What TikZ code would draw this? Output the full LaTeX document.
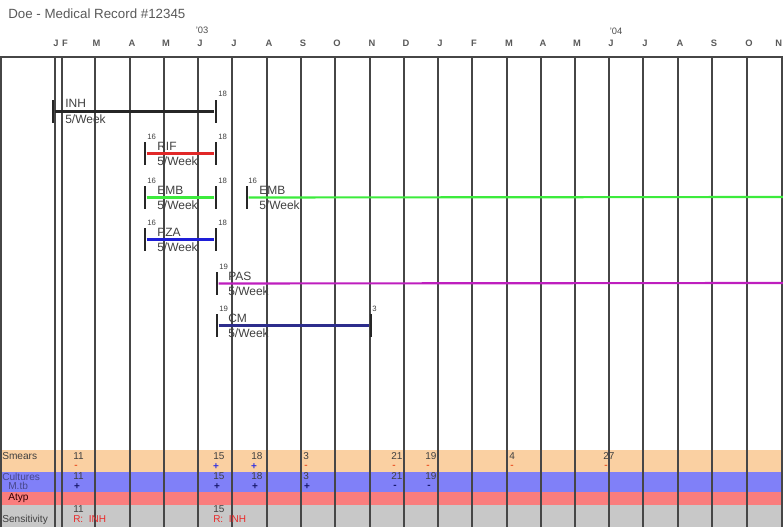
\documentclass[tikz,border=0pt]{standalone}
\usepackage{fontspec}
\setmainfont{Liberation Sans}
\definecolor{smearc}{RGB}{250,208,162}
\definecolor{cultc}{RGB}{128,128,248}
\definecolor{atypc}{RGB}{250,125,125}
\definecolor{sensc}{RGB}{200,200,200}
\definecolor{gridc}{RGB}{70,70,70}
\definecolor{rifc}{RGB}{225,40,40}
\definecolor{embc}{RGB}{60,235,60}
\definecolor{pzac}{RGB}{30,30,215}
\definecolor{pasc}{RGB}{190,30,190}
\definecolor{cmc}{RGB}{45,45,140}
\definecolor{minusc}{RGB}{235,95,50}
\definecolor{plusc}{RGB}{50,50,225}
\definecolor{navyc}{RGB}{25,25,110}
\definecolor{resc}{RGB}{235,40,40}
\begin{document}
\begin{tikzpicture}[x=0.75pt,y=-0.75pt,
  gridline/.style={draw=gridc, line width=1.3pt},
  tickmark/.style={fill=black!85, draw=none, inner sep=0pt, minimum width=2pt, minimum height=17.2pt},
  barline/.style={line width=1.6pt},
  txt/.style={anchor=base west, inner sep=0pt, text=black!75},
  month/.style={anchor=base, inner sep=0pt, font=\fontsize{7}{8}\selectfont\bfseries, text=black!65},
  yearlbl/.style={anchor=base, inner sep=0pt, font=\fontsize{7}{8}\selectfont, text=black!70},
  drug/.style={txt, font=\fontsize{9}{10}\selectfont},
  datenum/.style={txt, font=\fontsize{5.8}{6}\selectfont},
  rowlbl/.style={txt, font=\fontsize{7.6}{8}\selectfont},
  val/.style={txt, font=\fontsize{7.5}{8}\selectfont},
  sign/.style={anchor=center, inner sep=0pt, font=\fontsize{7.5}{8}\selectfont\bfseries}
]
\useasboundingbox (0,0) rectangle (783,527);

% result bands
\fill[smearc] (0,450) rectangle (783,472);
\fill[cultc] (0,472) rectangle (783,492);
\fill[atypc] (0,492) rectangle (783,505);
\fill[sensc] (0,505) rectangle (783,527);

% month grid lines
\foreach \x [count=\i] in {55,62,95,130,164,198,232,267,301,335,370,404,438,472,507,541,575,609,643,678,712,747,782}
  \draw[gridline] (\x,57) -- (\x,527);
\draw[gridline] (0,57) -- (783,57);
\draw[gridline] (0.8,57) -- (0.8,527);

% title
\node[txt, font=\fontsize{10}{12}\selectfont, text=black!65] (title) at (8,19) {Doe - Medical Record \#12345};

% month labels
\foreach \x/\m [count=\i] in {56/J,65/F,96.5/M,132/A,166/M,200/J,234/J,269/A,303/S,337/O,372/N,406/D,440/J,474/F,509/M,543/A,577/M,611/J,645/J,680/A,714/S,749/O}
  \node[month] (mon\i) at (\x,47) {\m};
\node[month, anchor=base east] (mon23) at (782.5,47) {N};
\node[yearlbl] (y03) at (202,34) {'03};
\node[yearlbl] (y04) at (616,35) {'04};

% INH
\node[tickmark] (inhL) at (53,111.5) {};
\node[tickmark] (inhR) at (216,111.5) {};
\draw[barline, black!85] (inhL) -- (inhR);
\node[drug] (inhT) at (65,108) {INH};
\node[drug] (inhF) at (65,124) {5/Week};
\node[datenum] (inhE) at (218,97) {18};

% RIF
\node[tickmark] (rifL) at (145,153.5) {};
\node[tickmark] (rifR) at (216,153.5) {};
\draw[barline, rifc] (rifL) -- (rifR);
\node[datenum] (rifS) at (147,140) {16};
\node[datenum] (rifE) at (218,140) {18};
\node[drug] (rifT) at (157,151) {RIF};
\node[drug] (rifF) at (157,166) {5/Week};

% EMB
\node[tickmark] (embL) at (145,197.5) {};
\node[tickmark] (embR) at (216,197.5) {};
\draw[barline, embc] (embL) -- (embR);
\node[datenum] (embS) at (147,184) {16};
\node[datenum] (embE) at (218,184) {18};
\node[drug] (embT) at (157,195) {EMB};
\node[drug] (embF) at (157,210) {5/Week};

% EMB (restart)
\node[tickmark] (emb2L) at (247,197.5) {};
\coordinate (emb2R) at (783,197);
\draw[barline, embc] (emb2L) -- (emb2R);
\node[datenum] (emb2S) at (248,184) {16};
\node[drug] (emb2T) at (259,195) {EMB};
\node[drug] (emb2F) at (259,210) {5/Week};

% PZA
\node[tickmark] (pzaL) at (145,239.5) {};
\node[tickmark] (pzaR) at (216,239.5) {};
\draw[barline, pzac] (pzaL) -- (pzaR);
\node[datenum] (pzaS) at (147,226) {16};
\node[datenum] (pzaE) at (218,226) {18};
\node[drug] (pzaT) at (157,237) {PZA};
\node[drug] (pzaF) at (157,252) {5/Week};

% PAS
\node[tickmark] (pasL) at (217,283.5) {};
\coordinate (pasR) at (783,283);
\draw[barline, pasc] (pasL) -- (pasR);
\node[datenum] (pasS) at (219,270) {19};
\node[drug] (pasT) at (228,281) {PAS};
\node[drug] (pasF) at (228,296) {5/Week};

% CM
\node[tickmark] (cmL) at (217,325.5) {};
\node[tickmark] (cmR) at (371,325.5) {};
\draw[barline, cmc] (cmL) -- (cmR);
\node[datenum] (cmS) at (219,312) {19};
\node[datenum] (cmE) at (372,312) {3};
\node[drug] (cmT) at (228,323) {CM};
\node[drug] (cmF) at (228,338) {5/Week};

% row labels
\node[rowlbl] (lsm) at (2,460) {Smears};
\node[rowlbl, text=navyc!80] (lcu) at (2,481) {Cultures};
\node[rowlbl, text=navyc!80] (lmtb) at (8,490) {M.tb};
\node[rowlbl, text=black!80!red] (latyp) at (8,501) {Atyp};
\node[rowlbl] (lsen) at (2,523) {Sensitivity};

% smears values
\foreach \x/\v/\s/\c [count=\i] in {73/11/-/minusc,213/15/+/plusc,251/18/+/plusc,303/3/-/minusc,391/21/-/minusc,425/19/-/minusc,509/4/-/minusc,603/27/-/minusc}{
  \node[val] (sv\i) at (\x,460) {\v};
  \node[sign, text=\c] (ss\i) at (\x+3,466.5) {\s};
}
% culture values
\foreach \x/\v/\s [count=\i] in {73/11/+,213/15/+,251/18/+,303/3/+,391/21/-,425/19/-}{
  \node[val] (cv\i) at (\x,480) {\v};
  \node[sign, text=navyc] (cs\i) at (\x+4,487) {\s};
}
% sensitivity
\node[val] (sen1) at (73,513) {11};
\node[val, text=resc] (res1) at (73,523) {R:\ \ INH};
\node[val] (sen2) at (213,513) {15};
\node[val, text=resc] (res2) at (213,523) {R:\ \ INH};
\end{tikzpicture}
\end{document}
